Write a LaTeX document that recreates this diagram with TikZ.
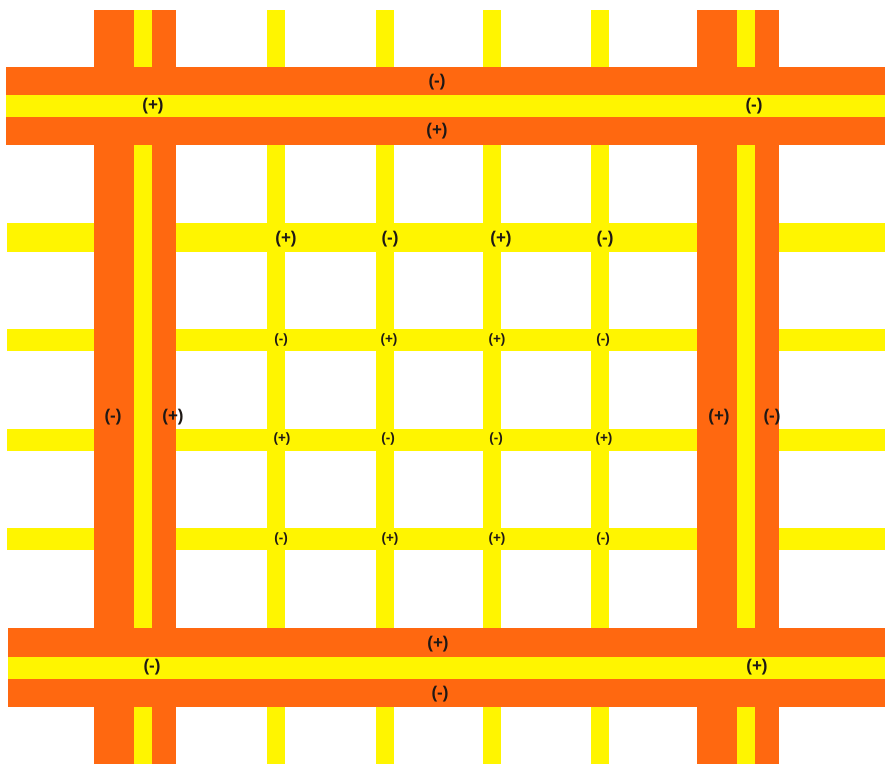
\documentclass[tikz,border=0pt]{standalone}
\usepackage{fontspec}
\setmainfont{Liberation Sans}
\usetikzlibrary{calc}
\definecolor{busorange}{RGB}{255,104,16}
\definecolor{gridyellow}{RGB}{255,245,0}
\definecolor{signdark}{RGB}{30,24,22}
\tikzset{
  bus/.style={%
    fill=busorange,draw=none,
  },
  stripe/.style={%
    fill=gridyellow,draw=none,
  },
  gridline/.style={%
    draw=gridyellow,
    line width=#1,
  },
  sign/.style={%
    font=\bfseries\fontsize{17}{20}\selectfont,
    text=signdark,inner sep=0pt,
  },
  smallsign/.style={%
    sign,
    font=\bfseries\fontsize{13.5}{16}\selectfont,
  }
}

\begin{document}
\begin{tikzpicture}[
    x=1pt,y=-1pt,
    line cap=butt,
]
\useasboundingbox (0,0) rectangle (885,764);
\coordinate (x1) at (276,0);
\coordinate (x2) at (384.5,0);
\coordinate (x3) at (491.5,0);
\coordinate (x4) at (599.5,0);
\coordinate (y1) at (0,237.5);
\coordinate (y2) at (0,340);
\coordinate (y3) at (0,439.5);
\coordinate (y4) at (0,539);
\coordinate (top) at (0,10);
\coordinate (bot) at (0,764);
\coordinate (lft) at (7,0);
\coordinate (rgt) at (885,0);
% yellow grid
\draw[gridline=18pt] (x1|-top) -- (x1|-bot);
\draw[gridline=18pt] (x2|-top) -- (x2|-bot);
\draw[gridline=18pt] (x3|-top) -- (x3|-bot);
\draw[gridline=18pt] (x4|-top) -- (x4|-bot);
\draw[gridline=29pt] (y1-|lft) -- (y1-|rgt);
\draw[gridline=22pt] (y2-|lft) -- (y2-|rgt);
\draw[gridline=22pt] (y3-|lft) -- (y3-|rgt);
\draw[gridline=22pt] (y4-|lft) -- (y4-|rgt);
% vertical buses
\fill[bus] (94,10) rectangle (176,764);
\fill[stripe] (134,10) rectangle (152,764);
\fill[bus] (697,10) rectangle (779,764);
\fill[stripe] (737,10) rectangle (755,764);
% horizontal buses
\fill[bus] (6,67) rectangle (885,145);
\fill[stripe] (6,95) rectangle (885,117);
\fill[bus] (8,628) rectangle (885,707);
\fill[stripe] (8,657) rectangle (885,679);
% bus signs
\node[sign] (topa) at (437,82) {(-)};
\node[sign] (topb) at (153,106) {(+)};
\node[sign] (topc) at (754,106) {(-)};
\node[sign] (topd) at (437,131) {(+)};
\node[sign] (bota) at (438,644) {(+)};
\node[sign] (botb) at (152,667) {(-)};
\node[sign] (botc) at (757,667) {(+)};
\node[sign] (botd) at (440,694) {(-)};
\node[sign] (lfta) at (113,417) {(-)};
\node[sign] (lftb) at (173,417) {(+)};
\node[sign] (rgta) at (719,417) {(+)};
\node[sign] (rgtb) at (772,417) {(-)};
% grid signs
\node[sign] (s11) at (286,239) {(+)};
\node[sign] (s12) at (390,239) {(-)};
\node[sign] (s13) at (501,239) {(+)};
\node[sign] (s14) at (605,239) {(-)};
\node[smallsign] (s21) at (281,340) {(-)};
\node[smallsign] (s22) at (389,340) {(+)};
\node[smallsign] (s23) at (497,340) {(+)};
\node[smallsign] (s24) at (603,340) {(-)};
\node[smallsign] (s31) at (282,439) {(+)};
\node[smallsign] (s32) at (388,439) {(-)};
\node[smallsign] (s33) at (496,439) {(-)};
\node[smallsign] (s34) at (604,439) {(+)};
\node[smallsign] (s41) at (281,539) {(-)};
\node[smallsign] (s42) at (390,539) {(+)};
\node[smallsign] (s43) at (497,539) {(+)};
\node[smallsign] (s44) at (603,539) {(-)};
\end{tikzpicture}
\end{document}
